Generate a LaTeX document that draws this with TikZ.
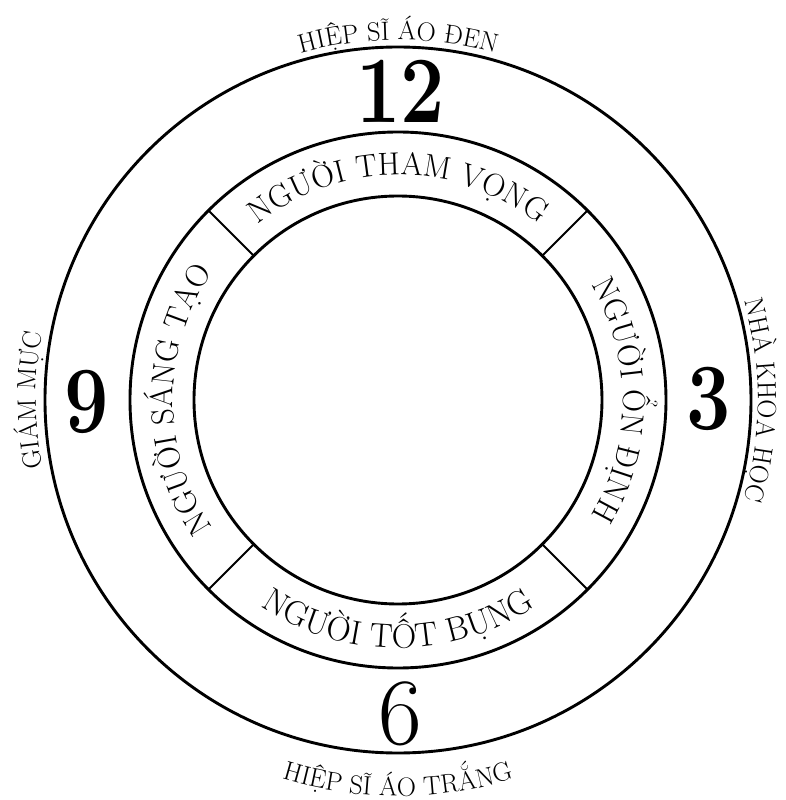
\documentclass[tikz,border=0pt]{standalone}
\usepackage{fontspec}
\usetikzlibrary{decorations.text}
\newcommand\ringfont{\fontsize{32}{32}\selectfont}
\newcommand\ringfontb{\fontsize{34}{34}\selectfont}
\newcommand\outfont{\fontsize{26.5}{26.5}\selectfont}
\begin{document}
\begin{tikzpicture}[x=1pt,y=1pt,
  ring/.style={line width=2.9pt},
  divider/.style={line width=1.8pt},
  arctext/.style={decorate, decoration={text along path, text align=center, text={#1}}},
  num/.style={inner sep=0pt, font=\fontsize{95}{95}\selectfont}]
\useasboundingbox (-398,-400) rectangle (388,400);
% circles
\draw[ring] (0,0) circle[radius=353pt];
\draw[ring] (0,0) circle[radius=268pt];
\draw[ring] (0,0) circle[radius=204pt];
\foreach \a in {45,135,225,315} \draw[divider] (\a:204pt) -- (\a:268pt);
% ring texts
\path[arctext={|\ringfont|NGƯỜI THAM VỌNG}] (180:225pt) arc[start angle=180, end angle=0, radius=225pt];
\path[arctext={|\ringfont|NGƯỜI ỔN ĐỊNH}] (90:225pt) arc[start angle=90, end angle=-90, radius=225pt];
\path[arctext={|\ringfont|NGƯỜI SÁNG TẠO}] (270:225pt) arc[start angle=270, end angle=90, radius=225pt];
\path[arctext={|\ringfontb|NGƯỜI TỐT BỤNG}] (180:248pt) arc[start angle=180, end angle=360, radius=248pt];
% outer texts
\path[arctext={|\outfont|HIỆP SĨ ÁO ĐEN}] (180:360pt) arc[start angle=180, end angle=0, radius=360pt];
\path[arctext={|\outfont|NHÀ KHOA HỌC}] (90:360pt) arc[start angle=90, end angle=-90, radius=360pt];
\path[arctext={|\outfont|GIÁM MỰC}] (270:362pt) arc[start angle=270, end angle=90, radius=362pt];
\path[arctext={|\outfont|HIỆP SĨ ÁO TRẮNG}] (180:396pt) arc[start angle=180, end angle=360, radius=396pt];
% numbers
\node[num] (n12) at (3,309) {\scalebox{0.83}[1]{\bfseries 12}};
\node[num] (n3) at (311,1) {\scalebox{0.83}[1]{\bfseries 3}};
\node[num] (n9) at (-311,-2) {\scalebox{0.83}[1]{\bfseries 9}};
\node[num] (n6) at (2,-314) {6};
\end{tikzpicture}
\end{document}
